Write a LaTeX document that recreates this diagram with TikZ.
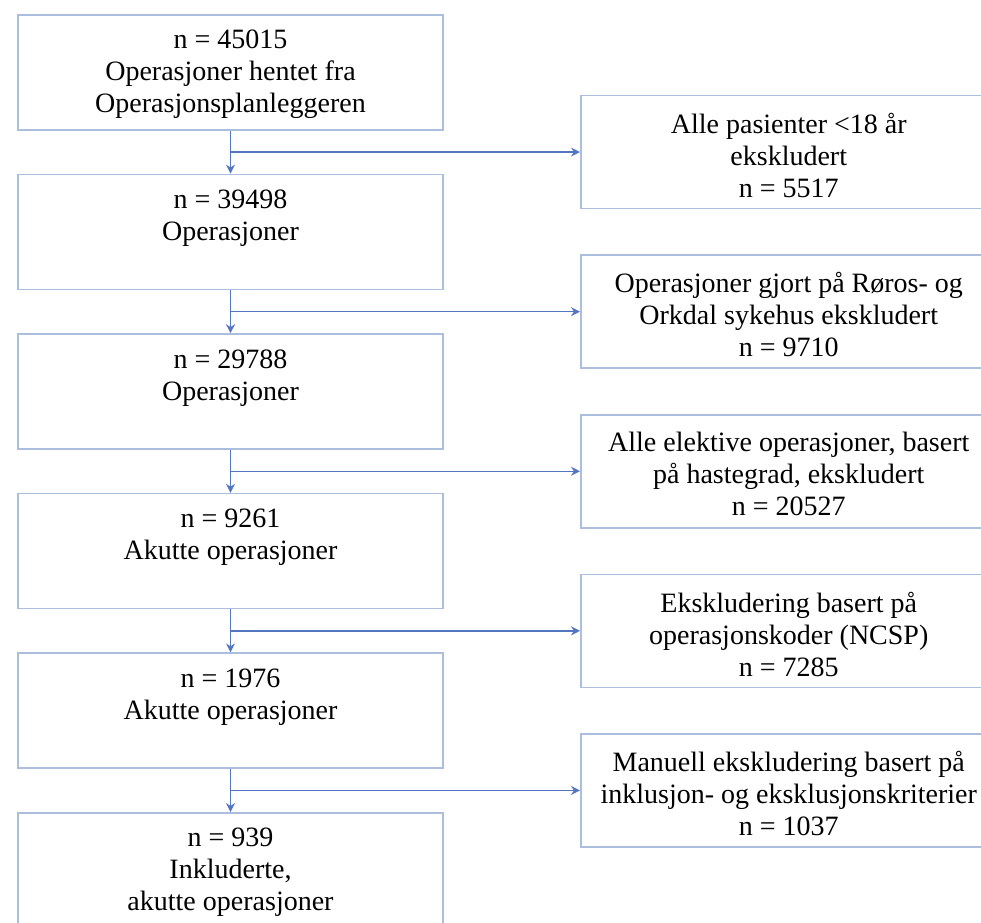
\documentclass[tikz,border=0pt]{standalone}
\usepackage{fontspec}
\setmainfont{Liberation Serif}
\usepackage{tikz}
\usetikzlibrary{arrows.meta}
\usetikzlibrary{positioning,calc}
\definecolor{boxline}{RGB}{172,190,222}
\definecolor{flowline}{RGB}{84,118,192}
\tikzset{
    stepleft/.style={
           rectangle,
           draw=boxline, line width=1.5pt,
           minimum width=425pt,
           minimum height=115pt,
           inner sep=0pt,
           },
    stepright/.style={
           stepleft,
           minimum width=416pt,
           minimum height=113pt,
           },
    steptext/.style={
           anchor=north,
           align=center,
           inner xsep=0pt,
           inner ysep=16pt,
           font=\fontsize{28}{32}\selectfont,
           },
    exctext/.style={
           steptext,
           inner ysep=18pt,
           },
    flow/.style={
           draw=flowline, line width=1.3pt,
           },
}

\begin{document}
\begin{tikzpicture}[x=1pt,y=1pt,->,>={Stealth[length=9pt,width=9pt]}]

    \useasboundingbox (0,0) rectangle (981,-922);

    \node[stepleft,anchor=north,label={[steptext]north:{n = 45015\\Operasjoner hentet fra\\Operasjonsplanleggeren}}]
        at (230.5,-14) (b1) {};
    \node[stepleft,below=43.1pt of b1,label={[steptext]north:{n = 39498\\Operasjoner}}]
        (b2) {};
    \node[stepleft,below=43.1pt of b2,label={[steptext]north:{n = 29788\\Operasjoner}}]
        (b3) {};
    \node[stepleft,below=43.1pt of b3,label={[steptext]north:{n = 9261\\Akutte operasjoner}}]
        (b4) {};
    \node[stepleft,below=43.1pt of b4,label={[steptext]north:{n = 1976\\Akutte operasjoner}}]
        (b5) {};
    \node[stepleft,below=43.1pt of b5,label={[steptext]north:{n = 939\\Inkluderte,\\akutte operasjoner}}]
        (b6) {};

    \coordinate (j1) at ($(b1.south)!0.5!(b2.north)$);
    \coordinate (j2) at ($(b2.south)!0.5!(b3.north)$);
    \coordinate (j3) at ($(b3.south)!0.5!(b4.north)$);
    \coordinate (j4) at ($(b4.south)!0.5!(b5.north)$);
    \coordinate (j5) at ($(b5.south)!0.5!(b6.north)$);

    \node[stepright,right=349.5pt of j1,label={[exctext]north:{Alle pasienter <18 år\\ekskludert\\n = 5517}}]
        (r1) {};
    \node[stepright,right=349.5pt of j2,label={[exctext]north:{Operasjoner gjort på Røros- og\\Orkdal sykehus ekskludert\\n = 9710}}]
        (r2) {};
    \node[stepright,right=349.5pt of j3,label={[exctext]north:{Alle elektive operasjoner, basert\\på hastegrad, ekskludert\\n = 20527}}]
        (r3) {};
    \node[stepright,right=349.5pt of j4,label={[exctext]north:{Ekskludering basert på\\operasjonskoder (NCSP)\\n = 7285}}]
        (r4) {};
    \node[stepright,right=349.5pt of j5,label={[exctext]north:{Manuell ekskludering basert på\\inklusjon- og eksklusjonskriterier\\n = 1037}}]
        (r5) {};

    \path (b1) edge[flow] (b2);
    \path (b2) edge[flow] (b3);
    \path (b3) edge[flow] (b4);
    \path (b4) edge[flow] (b5);
    \path (b5) edge[flow] (b6);

    \path (j1) edge[flow] (r1);
    \path (j2) edge[flow] (r2);
    \path (j3) edge[flow] (r3);
    \path (j4) edge[flow] (r4);
    \path (j5) edge[flow] (r5);

\end{tikzpicture}
\end{document}
